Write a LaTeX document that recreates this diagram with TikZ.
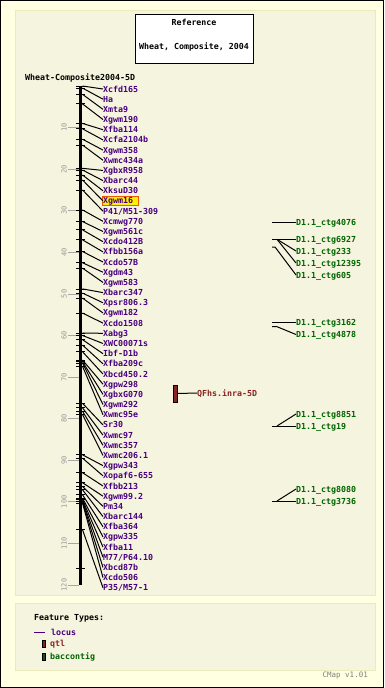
\documentclass[tikz,border=0pt]{standalone}
\usepackage{fontspec}
\setmainfont{DejaVu Sans Mono}
\usetikzlibrary{positioning}
\definecolor{cmapbg}{RGB}{255,255,226}
\definecolor{panelbg}{RGB}{245,244,222}
\definecolor{panelrule}{RGB}{236,234,186}
\definecolor{locuscol}{RGB}{72,0,128}
\definecolor{qtlcol}{RGB}{139,35,35}
\definecolor{ctgcol}{RGB}{0,100,0}
\definecolor{ctgdark}{RGB}{30,80,30}
\definecolor{hiedge}{RGB}{235,90,0}

\begin{document}
\begin{tikzpicture}[
x=1pt, y=-1pt,
every node/.style={font=\fontsize{8.3}{9}\selectfont\bfseries,
  inner sep=0pt,
  text height=6pt,
  text depth=0pt
},
locuslabel/.style={anchor=west, text=locuscol},
ctglabel/.style={anchor=west, text=ctgcol},
panel/.style={fill=panelbg, draw=panelrule, line width=1pt},
conn/.style={black, line width=1pt},
locustick/.style={black, line width=0.8pt},
scaletick/.style={gray!70, line width=0.8pt},
scalelabel/.style={text=gray!80, rotate=90, font=\fontsize{7}{8}\selectfont},
swatch/.style={draw=black, line width=0.4pt, minimum width=3.5pt, minimum height=7.5pt}
]
\useasboundingbox (0,0) rectangle (384,688);
\fill[cmapbg] (0,0) rectangle (384,688);
\draw[line width=1.2pt] (0.6,0.6) rectangle (383.4,687.4);
\draw[panel] (15,10) rectangle (375,595);
\draw[panel] (15,603) rectangle (375,670);

% title box
\node[draw, fill=white, line width=0.8pt, minimum width=118pt, minimum height=49pt] (titlebox) at (194,38.5) {};
\node (reftitle) at (194,22) {Reference};
\node (maptitle) at (194,46) {Wheat, Composite, 2004};
\node[anchor=west] (mapname) at (25,77) {Wheat-Composite2004-5D};

% map axis
\coordinate (axtop) at (80.5,86);
\coordinate (axbot) at (80.5,585);
\draw[line width=3pt] (axtop) -- (axbot);
\foreach \v in {10,20,...,120} {
  \pgfmathsetmacro\yy{86+4.158*\v}
  \draw[scaletick] (68,\yy) -- (79,\yy);
  \node[scalelabel] (s\v) at (63.5,\yy) {\v};
}
\draw[locustick] (76,{86+4.158*116}) -- (85,{86+4.158*116});

% highlighted locus
\node[fill=yellow, draw=hiedge, line width=0.8pt, minimum width=36pt, minimum height=9pt, anchor=west] (hibox) at (101.5,200.8) {};

% loci
\foreach \lab/\pos [count=\i] in {Xcfd165/0, Ha/0.5, Xmta9/2, Xgwm190/4.3, Xfba114/9,
  Xcfa2104b/10.3, Xgwm358/12.8, Xwmc434a/14.2, XgbxR958/19.8, Xbarc44/20.2,
  XksuD30/21.4, Xgwm16/22.6, {P41/M51-309}/25, Xcmwg770/29.8, Xgwm561c/32.6,
  Xcdo412B/34.6, Xfbb156a/37, Xcdo57B/39.8, Xgdm43/42.5, Xgwm583/43.8,
  Xbarc347/48.8, Xpsr806.3/49.8, Xgwm182/51, Xcdo1508/54.6, Xabg3/59.4,
  XWC00071s/60, Ibf-D1b/61, Xfba209c/62.3, Xbcd450.2/63.9, Xgpw298/65.9,
  XgbxG070/66.3, Xgwm292/66.6, Xwmc95e/67.4, Sr30/76.3, Xwmc97/77.4,
  Xwmc357/78.2, Xwmc206.1/79, Xgpw343/88.7, Xopaf6-655/89.5, Xfbb213/93,
  Xgwm99.2/95.4, Pm34/96.3, Xbarc144/97.1, Xfba364/98.3, Xgpw335/99.1,
  Xfba11/99.5, {M77/P64.10}/99.8, Xbcd87b/100, Xcdo506/100.3, {P35/M57-1}/106.7} {
  \pgfmathsetmacro\yy{86+4.158*\pos}
  \pgfmathsetmacro\ly{89+10.18*(\i-1)}
  \draw[locustick] (76,\yy) -- (85,\yy);
  \coordinate (ax\i) at (82.5,\yy);
  \node[locuslabel] (loc\i) at (103,\ly) {\lab};
  \draw[conn] (ax\i) -- (loc\i.west);
}

% qtl
\node[swatch, fill=qtlcol, minimum width=4pt, minimum height=17pt] (qtl) at (175,393.5) {};
\node[anchor=west, text=qtlcol] (qtllab) at (197,393) {QFhs.inra-5D};
\draw[conn] (qtl.east) -- (qtllab.west);

% bac contigs
\coordinate (c1) at (272,222);
\node[ctglabel] (ctg4076) at (296,222) {D1.1\_ctg4076};
\draw[conn] (c1) -- (ctg4076.west);

\coordinate (c2) at (272,239.3);
\coordinate (c2b) at (277,239.3);
\node[ctglabel] (ctg6927) at (296,239.3) {D1.1\_ctg6927};
\node[ctglabel] (ctg233) at (296,251) {D1.1\_ctg233};
\node[ctglabel] (ctg12395) at (296,263) {D1.1\_ctg12395};
\draw[conn] (c2) -- (ctg6927.west);
\draw[conn] (c2b) -- (ctg233.west);
\draw[conn] (c2b) -- (ctg12395.west);

\coordinate (c3) at (272,247);
\coordinate (c3b) at (275,247);
\node[ctglabel] (ctg605) at (296,275) {D1.1\_ctg605};
\draw[conn] (c3) -- (c3b) -- (ctg605.west);

\coordinate (c4) at (272,322);
\node[ctglabel] (ctg3162) at (296,322) {D1.1\_ctg3162};
\draw[conn] (c4) -- (ctg3162.west);

\coordinate (c5) at (272,326.7);
\coordinate (c5b) at (277,326.7);
\node[ctglabel] (ctg4878) at (296,334.5) {D1.1\_ctg4878};
\draw[conn] (c5) -- (c5b) -- (ctg4878.west);

\coordinate (c6) at (272,426);
\coordinate (c6b) at (277,426);
\node[ctglabel] (ctg8851) at (296,414) {D1.1\_ctg8851};
\node[ctglabel] (ctg19) at (296,426) {D1.1\_ctg19};
\draw[conn] (c6) -- (ctg19.west);
\draw[conn] (c6b) -- (ctg8851.west);

\coordinate (c7) at (272,501);
\coordinate (c7b) at (277,501);
\node[ctglabel] (ctg8080) at (296,489) {D1.1\_ctg8080};
\node[ctglabel] (ctg3736) at (296,501) {D1.1\_ctg3736};
\draw[conn] (c7) -- (ctg3736.west);
\draw[conn] (c7b) -- (ctg8080.west);

% legend
\node[anchor=west] (legtitle) at (34,617) {Feature Types:};
\coordinate (lg1) at (34,632);
\coordinate (lg2) at (45,632);
\draw[locuscol, line width=0.8pt] (lg1) -- (lg2);
\node[locuslabel] (leglocus) at (51,632) {locus};
\node[swatch, fill=qtlcol] (qtlkey) at (43.5,643.5) {};
\node[anchor=west, text=qtlcol] (legqtl) at (50,643.5) {qtl};
\node[swatch, fill=ctgdark] (backey) at (43.5,656.5) {};
\node[ctglabel] (legbac) at (50,656.5) {baccontig};
\node[anchor=east, text=gray, font=\fontsize{7.5}{8}\selectfont] (version) at (368,674.5) {CMap v1.01};
\end{tikzpicture}
\end{document}
